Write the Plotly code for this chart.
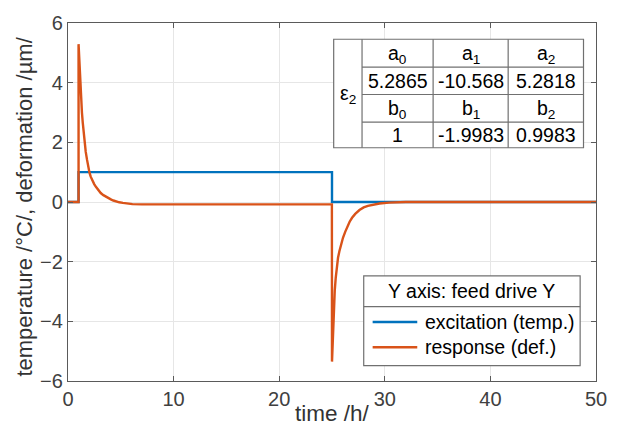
import plotly.graph_objects as go

# ---- data ----
exc_t = [0, 1, 1, 25, 25, 50]
exc_v = [0, 0, 1, 1, 0, 0]

resp_t = [0, 1.0, 1.0, 1.05, 1.1, 1.17, 1.25, 1.32, 1.4, 1.48, 1.56, 1.68, 1.8, 1.9, 2.03, 2.15, 2.3, 2.48,
          2.66, 2.88, 3.1, 3.35, 3.6, 3.85, 4.1, 4.3, 4.54, 4.85, 5.2, 5.6, 6.1, 7, 8, 12, 18,
          24.99, 25.0, 25.05, 25.1, 25.18, 25.26, 25.35, 25.45, 25.57, 25.7, 25.85, 26.04, 26.25, 26.45,
          26.67, 26.9, 27.2, 27.6, 28.0, 28.4, 28.85, 29.5, 30.4, 31.2, 32, 40, 50]
resp_v = [0, 0, 5.29, 4.85, 4.45, 3.95, 3.41, 3.0, 2.65, 2.3, 1.98, 1.68, 1.42, 1.2, 0.99, 0.85, 0.72, 0.6,
          0.5, 0.39, 0.3, 0.23, 0.17, 0.12, 0.08, 0.05, 0.02, -0.01, -0.03, -0.05, -0.07, -0.08, -0.08, -0.08, -0.08,
          -0.08, -5.35, -4.8, -4.3, -3.55, -2.97, -2.55, -2.2, -1.87, -1.65, -1.42, -1.2, -1.0, -0.82,
          -0.66, -0.53, -0.4, -0.27, -0.18, -0.13, -0.09, -0.05, -0.02, -0.01, 0, 0, 0]

tbl_header_a = ["a<sub>0</sub>", "a<sub>1</sub>", "a<sub>2</sub>"]
tbl_values_a = ["5.2865", "-10.568", "5.2818"]
tbl_header_b = ["b<sub>0</sub>", "b<sub>1</sub>", "b<sub>2</sub>"]
tbl_values_b = ["1", "-1.9983", "0.9983"]
tbl_label = "ε<sub>2</sub>"

legend_title = "Y axis: feed drive Y"
series_names = ["excitation (temp.)", "response (def.)"]
colors = ["#0072BD", "#D95319"]

# ---- layout geometry (pixels) ----
W, H = 619, 430
L, R, T, B = 67.7, 600.3, 18.5, 381.5
FONT = "Liberation Sans, Arial, sans-serif"
TXT = "#333333"
AX = "#5a5a5a"
BORDER = "#707070"
FS = 19.5


def px(x):
    return (x - L) / (R - L)


def py(y):
    return (B - y) / (B - T)


fig = go.Figure()
fig.add_trace(go.Scatter(x=exc_t, y=exc_v, mode="lines", name=series_names[0],
                         line=dict(color=colors[0], width=2.4), showlegend=False))
fig.add_trace(go.Scatter(x=resp_t, y=resp_v, mode="lines", name=series_names[1],
                         line=dict(color=colors[1], width=2.4), showlegend=False))

shapes = []
annotations = []

# ---- coefficient table ----
cols = [335.7, 364.3, 436.0, 511.7, 587.7]
rows = [35.0, 63.3, 91.0, 119.0, 145.0]
shapes.append(dict(type="rect", xref="paper", yref="paper", x0=px(cols[0]), x1=px(cols[-1]),
                   y0=py(rows[-1]), y1=py(rows[0]), fillcolor="white",
                   line=dict(color=BORDER, width=1.2), layer="above"))
for c in cols[1:-1]:
    shapes.append(dict(type="line", xref="paper", yref="paper", x0=px(c), x1=px(c),
                       y0=py(rows[-1]), y1=py(rows[0]), line=dict(color=BORDER, width=1.2), layer="above"))
for r in rows[1:-1]:
    shapes.append(dict(type="line", xref="paper", yref="paper", x0=px(cols[1]), x1=px(cols[-1]),
                       y0=py(r), y1=py(r), line=dict(color=BORDER, width=1.2), layer="above"))

row_texts = [tbl_header_a, tbl_values_a, tbl_header_b, tbl_values_b]
for ri, texts in enumerate(row_texts):
    yc = (rows[ri] + rows[ri + 1]) / 2
    for ci, t in enumerate(texts):
        xc = (cols[ci + 1] + cols[ci + 2]) / 2
        annotations.append(dict(x=px(xc), y=py(yc + (1.0 if "<sub>" in t else 0)), xref="paper", yref="paper",
                                text=t, showarrow=False, xanchor="center", yanchor="middle",
                                font=dict(family=FONT, size=FS, color="#000000")))
annotations.append(dict(x=px((cols[0] + cols[1]) / 2), y=py((rows[0] + rows[-1]) / 2 + 1.0),
                        xref="paper", yref="paper", text=tbl_label, showarrow=False,
                        xanchor="center", yanchor="middle",
                        font=dict(family=FONT, size=FS, color="#000000")))

# ---- legend box ----
lg_l, lg_r, lg_t, lg_sep, lg_b = 366.0, 584.3, 275.0, 306.0, 366.0
shapes.append(dict(type="rect", xref="paper", yref="paper", x0=px(lg_l), x1=px(lg_r),
                   y0=py(lg_b), y1=py(lg_t), fillcolor="white",
                   line=dict(color=BORDER, width=1.2), layer="above"))
shapes.append(dict(type="line", xref="paper", yref="paper", x0=px(lg_l), x1=px(lg_r),
                   y0=py(lg_sep), y1=py(lg_sep), line=dict(color=BORDER, width=1.2), layer="above"))
annotations.append(dict(x=px((lg_l + lg_r) / 2), y=py((lg_t + lg_sep) / 2), xref="paper", yref="paper",
                        text=legend_title, showarrow=False, xanchor="center", yanchor="middle",
                        font=dict(family=FONT, size=FS, color="#000000")))
for i, (name, col) in enumerate(zip(series_names, colors)):
    yy = [321.7, 347.3][i]
    shapes.append(dict(type="line", xref="paper", yref="paper", x0=px(375), x1=px(420),
                       y0=py(yy), y1=py(yy), line=dict(color=col, width=2.4), layer="above"))
    annotations.append(dict(x=px(426), y=py(yy), xref="paper", yref="paper", text=name,
                            showarrow=False, xanchor="left", yanchor="middle",
                            font=dict(family=FONT, size=FS, color="#000000")))

# ---- axis titles ----
annotations.append(dict(x=px((L + R) / 2), y=py(414), xref="paper", yref="paper", text="time /h/",
                        showarrow=False, xanchor="center", yanchor="middle",
                        font=dict(family=FONT, size=22.5, color=TXT)))
annotations.append(dict(x=px(24), y=py(205), xref="paper", yref="paper",
                        text="temperature /°C/, deformation /µm/", textangle=-90,
                        showarrow=False, xanchor="center", yanchor="middle",
                        font=dict(family=FONT, size=22, color=TXT)))

axis_common = dict(showgrid=True, gridcolor="#e6e6e6", gridwidth=1, zeroline=False,
                   showline=True, linecolor=AX, linewidth=1.3, mirror="ticks",
                   ticks="inside", ticklen=5, tickcolor=AX, tickwidth=1.2,
                   tickfont=dict(family=FONT, size=20, color="#404040"))

fig.update_layout(
    width=W, height=H,
    margin=dict(l=L, r=W - R, t=T, b=H - B, pad=0),
    paper_bgcolor="white", plot_bgcolor="white",
    xaxis=dict(range=[0, 50], tickvals=[0, 10, 20, 30, 40, 50], **axis_common),
    yaxis=dict(range=[-6, 6], tickvals=[-6, -4, -2, 0, 2, 4, 6], **axis_common),
    shapes=shapes, annotations=annotations, showlegend=False,
)

fig.write_html("out.html")
